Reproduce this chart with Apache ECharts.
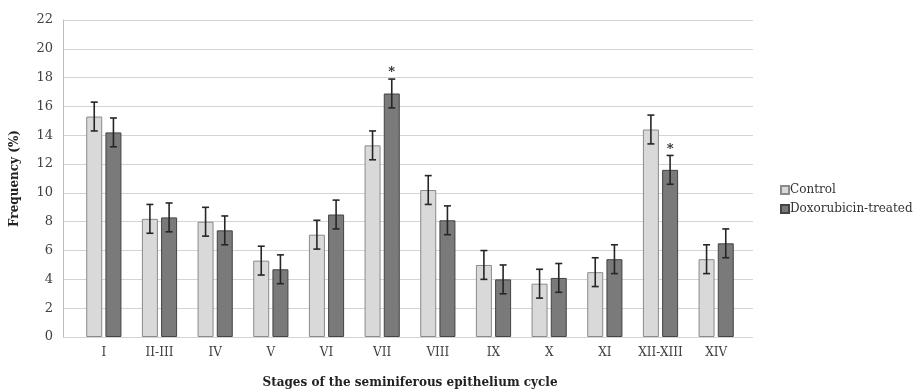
<!DOCTYPE html>
<html>
<head>
<meta charset="utf-8">
<script src="https://cdn.jsdelivr.net/npm/echarts@6/dist/echarts.min.js"></script>
<style>
  html, body { margin: 0; padding: 0; background: #fff; }
  #chart { width: 919px; height: 390px; }
</style>
</head>
<body>
<div id="chart"></div>
<script>
// stages of the cycle
var stages = ['I', 'II-III', 'IV', 'V', 'VI', 'VII', 'VIII', 'IX', 'X', 'XI', 'XII-XIII', 'XIV'];
// mean frequency (%)
var control = [15.3, 8.2, 8.0, 5.3, 7.1, 13.3, 10.2, 5.0, 3.7, 4.5, 14.4, 5.4];
var doxo = [14.2, 8.3, 7.4, 4.7, 8.5, 16.9, 8.1, 4.0, 4.1, 5.4, 11.6, 6.5];
// error bar half-lengths
var controlErr = [1.0, 1.0, 1.0, 1.0, 1.0, 1.0, 1.0, 1.0, 1.0, 1.0, 1.0, 1.0];
var doxoErr = [1.0, 1.0, 1.0, 1.0, 1.0, 1.0, 1.0, 1.0, 1.0, 1.0, 1.0, 1.0];
// significance marks above treated bars
var stars = ['', '', '', '', '', '*', '', '', '', '', '*', ''];
var yTicks = [0, 2, 4, 6, 8, 10, 12, 14, 16, 18, 20, 22];

var serif = '"DejaVu Serif", "Liberation Serif", serif';
var BAR_W = 16;
var SHIFT = 9.6;

function errData(vals, errs) {
  return vals.map(function (v, i) { return [i, v - errs[i], v + errs[i]]; });
}

function errRender(shift, withStar) {
  return function (params, api) {
    var i = api.value(0);
    var lo = api.coord([i, api.value(1)]);
    var hi = api.coord([i, api.value(2)]);
    var x = lo[0] + shift;
    var style = { stroke: '#262626', lineWidth: 1.6 };
    var kids = [
      { type: 'line', shape: { x1: x, y1: lo[1], x2: x, y2: hi[1] }, style: style },
      { type: 'line', shape: { x1: x - 3.5, y1: lo[1], x2: x + 3.5, y2: lo[1] }, style: style },
      { type: 'line', shape: { x1: x - 3.5, y1: hi[1], x2: x + 3.5, y2: hi[1] }, style: style }
    ];
    if (withStar && stars[i]) {
      kids.push({
        type: 'text',
        style: { text: stars[i], x: x, y: hi[1] - 6, align: 'center', verticalAlign: 'middle',
                 font: 'bold 13px ' + serif, fill: '#262626' }
      });
    }
    return { type: 'group', children: kids };
  };
}

var chart = echarts.init(document.getElementById('chart'));
chart.setOption({
  animation: false,
  backgroundColor: '#fff',
  grid: [
    { left: 63, right: 166, top: 20, bottom: 53, outerBoundsMode: 'none', containLabel: false },
    { left: 76, right: 175, top: 20, bottom: 53, outerBoundsMode: 'none', containLabel: false }
  ],
  legend: {
    data: ['Control', 'Doxorubicin-treated'],
    orient: 'vertical',
    left: 775,
    top: 179,
    itemWidth: 8,
    itemHeight: 8,
    itemGap: 7,
    icon: 'rect',
    textStyle: { fontFamily: serif, fontSize: 12, color: '#333', padding: [0, 0, 0, -4] }
  },
  xAxis: [
    { gridIndex: 0, type: 'value', min: 0, max: 1, show: false },
    {
      gridIndex: 1, type: 'category', data: stages,
      axisLine: { show: false }, axisTick: { show: false },
      axisLabel: { interval: 0, fontFamily: serif, fontSize: 12, color: '#404040', margin: 10 },
      name: 'Stages of the seminiferous epithelium cycle',
      nameLocation: 'middle', nameGap: 40,
      nameTextStyle: { fontFamily: serif, fontSize: 12, fontWeight: 'bold', color: '#222' }
    }
  ],
  yAxis: [
    {
      gridIndex: 0, type: 'value', min: 0, max: 22, interval: 2,
      axisLine: { show: true, lineStyle: { color: '#bdbdbd', width: 1 } },
      axisTick: { show: false },
      splitLine: { show: true, lineStyle: { color: '#d4d4d4', width: 1.2 } },
      axisLabel: { fontFamily: serif, fontSize: 13, color: '#404040', margin: 10,
        formatter: function (v) { return yTicks.indexOf(v) >= 0 ? String(v) : ''; } },
      name: 'Frequency (%)', nameLocation: 'middle', nameGap: 42, nameRotate: 90,
      nameTextStyle: { fontFamily: serif, fontSize: 12, fontWeight: 'bold', color: '#222' }
    },
    { gridIndex: 1, type: 'value', min: 0, max: 22, interval: 2, show: false, splitLine: { show: false } }
  ],
  series: [
    {
      name: 'Control', type: 'bar', xAxisIndex: 1, yAxisIndex: 1,
      data: control, barWidth: BAR_W, barGap: '20%',
      itemStyle: { color: '#d9d9d9', borderColor: '#8a8a8a', borderWidth: 1 }
    },
    {
      name: 'Doxorubicin-treated', type: 'bar', xAxisIndex: 1, yAxisIndex: 1,
      data: doxo, barWidth: BAR_W, barGap: '20%',
      itemStyle: { color: '#7a7a7a', borderColor: '#444', borderWidth: 1 }
    },
    {
      type: 'custom', xAxisIndex: 1, yAxisIndex: 1, z: 5,
      renderItem: errRender(-SHIFT, false),
      data: errData(control, controlErr)
    },
    {
      type: 'custom', xAxisIndex: 1, yAxisIndex: 1, z: 5,
      renderItem: errRender(SHIFT, true),
      data: errData(doxo, doxoErr)
    }
  ]
});
</script>
</body>
</html>
